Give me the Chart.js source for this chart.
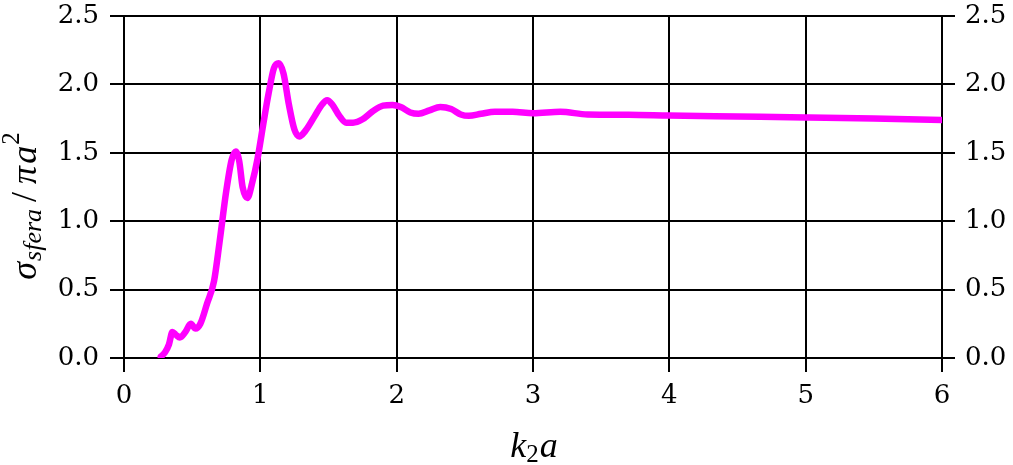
<!DOCTYPE html>
<html>
  <head>
    <meta charset="utf-8">
    <title>sigma sfera</title>
    <script src="https://cdn.jsdelivr.net/npm/chart.js@4.4.1/dist/chart.umd.min.js"></script>
    <style>
      body { margin: 0; background: #fff; }
      #wrap { position: relative; width: 1013px; height: 465px; }
    </style>
  </head>
  <body>
  <div id="wrap"><canvas id="gr1"></canvas></div>
    <script>

// data
const kValues = [0.27, 0.30, 0.33, 0.355, 0.38, 0.41, 0.45, 0.49, 0.525, 0.56, 0.61, 0.66, 0.70, 0.75, 0.79, 0.82, 0.845, 0.87, 0.905, 0.94, 0.98, 1.02, 1.06, 1.10, 1.135, 1.17, 1.21, 1.25, 1.285, 1.33, 1.40, 1.45, 1.49, 1.53, 1.58, 1.63, 1.68, 1.75, 1.82, 1.90, 1.97, 2.03, 2.10, 2.16, 2.24, 2.32, 2.40, 2.47, 2.53, 2.62, 2.72, 2.85, 3.0, 3.2, 3.4, 3.7, 4.0, 4.5, 5.0, 5.5, 6.0];
const sigmaValues = [0.01, 0.04, 0.10, 0.19, 0.17, 0.15, 0.19, 0.25, 0.215, 0.25, 0.40, 0.56, 0.84, 1.22, 1.45, 1.51, 1.44, 1.25, 1.17, 1.28, 1.46, 1.70, 1.93, 2.12, 2.155, 2.08, 1.85, 1.67, 1.62, 1.66, 1.77, 1.85, 1.885, 1.85, 1.77, 1.72, 1.72, 1.745, 1.80, 1.845, 1.85, 1.835, 1.795, 1.785, 1.81, 1.835, 1.82, 1.78, 1.77, 1.785, 1.80, 1.80, 1.79, 1.80, 1.78, 1.778, 1.772, 1.765, 1.758, 1.75, 1.74];
const xTicks = [0, 1, 2, 3, 4, 5, 6];
const yTicks = [0, 0.5, 1.0, 1.5, 2.0, 2.5];

const points = kValues.map((k, i) => ({ x: k, y: sigmaValues[i] }));

const tickFont = { family: "DejaVu Serif", size: 26 };
const mathIt = 'italic 36px "Liberation Serif"';
const mathSub = 'italic 26px "Liberation Serif"';
const mathNum = '25px "Liberation Serif"';

// draws a row of text pieces [text, font, dy, gapAfter]
function drawPieces(ctx, pieces, x, y) {
  let total = 0;
  pieces.forEach(p => { ctx.font = p[1]; total += ctx.measureText(p[0]).width + (p[3] || 0); });
  let cur = x - total / 2;
  pieces.forEach(p => {
    ctx.font = p[1];
    ctx.fillText(p[0], cur, y + p[2]);
    cur += ctx.measureText(p[0]).width + (p[3] || 0);
  });
}

const axisTitles = {
  id: 'axisTitles',
  afterDraw(chart) {
    const ctx = chart.ctx;
    ctx.save();
    ctx.fillStyle = '#000';
    ctx.textBaseline = 'alphabetic';
    ctx.textAlign = 'left';
    // x title k_2 a
    drawPieces(ctx, [
      ['k', mathIt, 0, 0],
      ['2', mathNum, 5, 1],
      ['a', mathIt, 0, 0]
    ], 534, 457);
    // y title sigma_sfera / pi a^2
    ctx.translate(36, 206);
    ctx.rotate(-Math.PI / 2);
    drawPieces(ctx, [
      ['σ', mathIt, 0, 1],
      ['sfera', mathSub, 5, 7],
      ['/', '36px "Liberation Serif"', 0, 8],
      ['π', mathIt, 0, 2],
      ['a', mathIt, 0, 1],
      ['2', mathNum, -17, 0]
    ], 0, 0);
    ctx.restore();
  }
};

// keep the chart area top where the reference has it
const noPad = s => { s.paddingTop = 0; s.paddingBottom = 0; };

const gridBlack = { color: '#000', lineWidth: 2, tickLength: 14, tickColor: '#000', tickWidth: 2 };

let config = {
  type: 'line',
  data: {
    datasets: [{
      data: points,
      borderColor: '#ff00ff',
      backgroundColor: '#ff00ff',
      borderWidth: 6.5,
      pointRadius: 0,
      fill: false,
      cubicInterpolationMode: 'monotone',
      borderCapStyle: 'round',
      borderJoinStyle: 'round'
    }]
  },
  options: {
    responsive: true,
    maintainAspectRatio: false,
    animation: false,
    layout: { padding: { left: 0, right: 0, top: 16, bottom: 0 } },
    scales: {
      x: {
        type: 'linear',
        min: 0,
        max: 6,
        afterBuildTicks: s => { s.ticks = xTicks.map(v => ({ value: v })); },
        afterFit: s => { s.height = 107; },
        ticks: { font: tickFont, color: '#000', padding: 9, maxRotation: 0 },
        grid: gridBlack,
        border: { display: true, color: '#000', width: 2 }
      },
      y: {
        min: 0,
        max: 2.5,
        afterBuildTicks: s => { s.ticks = yTicks.map(v => ({ value: v })); },
        afterFit: s => { s.width = 124; noPad(s); },
        ticks: { font: tickFont, color: '#000', padding: 11, callback: v => v.toFixed(1) },
        grid: gridBlack,
        border: { display: true, color: '#000', width: 2 }
      },
      y2: {
        position: 'right',
        min: 0,
        max: 2.5,
        afterBuildTicks: s => { s.ticks = yTicks.map(v => ({ value: v })); },
        afterFit: s => { s.width = 71; noPad(s); },
        ticks: { font: tickFont, color: '#000', padding: 10, callback: v => v.toFixed(1) },
        grid: { drawOnChartArea: false, color: '#000', lineWidth: 2, tickLength: 13 },
        border: { display: true, color: '#000', width: 2 }
      }
    },
    plugins: {
      legend: { display: false },
      tooltip: { enabled: false },
      title: { display: false }
    }
  },
  plugins: [axisTitles]
};

var canv = document.getElementById('gr1');
var ctx = canv.getContext('2d');
let graph1 = new Chart(ctx, config);
    </script>
  </body>
</html>
